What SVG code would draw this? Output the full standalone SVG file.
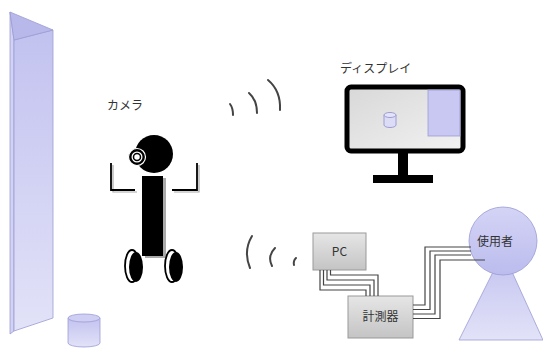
<svg xmlns="http://www.w3.org/2000/svg" width="543" height="348" viewBox="0 0 543 348">
  <defs>
    <linearGradient id="lav" x1="0" y1="0" x2="0" y2="1">
      <stop offset="0" stop-color="#c2c2f0"/>
      <stop offset="1" stop-color="#e2e2f8"/>
    </linearGradient>
    <linearGradient id="lavBall" x1="0" y1="0" x2="0" y2="1">
      <stop offset="0" stop-color="#d4d4f6"/>
      <stop offset="1" stop-color="#bcbcee"/>
    </linearGradient>
    <linearGradient id="box" x1="0" y1="0" x2="0" y2="1">
      <stop offset="0" stop-color="#e6e6e6"/>
      <stop offset="1" stop-color="#c4c4c4"/>
    </linearGradient>
    <linearGradient id="screen" x1="0" y1="0" x2="1" y2="1">
      <stop offset="0" stop-color="#d8d8d8"/>
      <stop offset="1" stop-color="#f2f2f2"/>
    </linearGradient>
  </defs>
  <style>
    .lbl { font-family: "Noto Sans CJK JP", "Noto Sans", sans-serif; font-size: 12px; fill: #333; }
    .box { fill: url(#box); stroke: #999; stroke-width: 1; }
    .lav { stroke: #9c9cd4; stroke-width: 0.8; }
    .blk { fill: #000; }
    .sh { fill: none; stroke: #aaa; stroke-width: 1.2; }
    .arm { fill: none; stroke: #000; stroke-width: 1.8; }
    .wave { fill: none; stroke: #444; stroke-width: 2; stroke-linecap: round; }
    .cable { fill: none; stroke: #444; stroke-width: 1.2; }
  </style>

  <!-- tall triangular prism -->
  <g id="prism">
    <polygon class="lav" points="10,12 14,40 14,331 10,334" fill="#d2d2f4"/>
    <polygon class="lav" points="14,40 53,30 53,318 14,331" fill="url(#lav)"/>
    <polygon class="lav" points="10,12 53,30 14,40" fill="#b8b8ea"/>
  </g>

  <!-- small cylinder on the floor -->
  <g id="cylinder">
    <path class="lav" d="M68,318 V343 A16,4 0 0 0 100,343 V318" fill="url(#lav)"/>
    <ellipse class="lav" cx="84" cy="318" rx="16" ry="4" fill="#cfcff4"/>
  </g>

  <!-- camera robot -->
  <g id="camera">
    <text class="lbl" x="107" y="110">カメラ</text>
    <!-- arms -->
    <path class="sh" d="M113,165 V192 H137 M199,165 V192 H174"/>
    <path class="arm" d="M111,163 V190 H135 M197,163 V190 H172"/>
    <!-- head -->
    <circle class="blk" cx="154" cy="154" r="19"/>
    <!-- body -->
    <rect x="145" y="178" width="21" height="80" fill="#aaa"/>
    <rect class="blk" x="142" y="176" width="21" height="80"/>
    <!-- lens -->
    <circle cx="137" cy="157" r="8.5" fill="#000" stroke="#fff" stroke-width="1.2"/>
    <circle cx="137" cy="157" r="5.5" fill="#fff"/>
    <circle cx="137" cy="157" r="3.5" fill="none" stroke="#000" stroke-width="1.5"/>
    <!-- wheels -->
    <ellipse cx="132" cy="266" rx="7" ry="16" fill="none" stroke="#000" stroke-width="1.8"/>
    <ellipse class="blk" cx="136" cy="267" rx="7" ry="15"/>
    <ellipse cx="172" cy="266" rx="7" ry="16" fill="none" stroke="#000" stroke-width="1.8"/>
    <ellipse class="blk" cx="176" cy="267" rx="7" ry="15"/>
  </g>

  <!-- radio waves from the camera -->
  <g id="waves-top">
    <path class="wave" d="M230,104 Q233,108 233,115"/>
    <path class="wave" d="M249,93 Q257,100 257,113"/>
    <path class="wave" d="M268,80 Q281,91 280,110"/>
  </g>
  <g id="waves-bottom">
    <path class="wave" d="M252,236 Q243,251 250,268"/>
    <path class="wave" d="M275,248 Q267,256 272,266"/>
    <path class="wave" d="M296,258 Q293,261 294,265"/>
  </g>

  <!-- display -->
  <g id="display">
    <text class="lbl" x="340" y="73" font-size="13">ディスプレイ</text>
    <rect x="347" y="87" width="116" height="64" rx="4" fill="url(#screen)" stroke="#000" stroke-width="5"/>
    <rect x="428" y="90" width="32" height="46" fill="#c8c8f2" stroke="#9c9cd4" stroke-width="0.8"/>
    <path d="M384,115 V125 A6,2.5 0 0 0 396,125 V115" fill="#dcdcf6" stroke="#9c9cd4" stroke-width="1"/>
    <ellipse cx="390" cy="115" rx="6" ry="2.5" fill="#e4e4f8" stroke="#9c9cd4" stroke-width="1"/>
    <rect class="blk" x="398" y="152" width="10" height="24"/>
    <rect class="blk" x="373" y="175" width="60" height="8"/>
  </g>

  <!-- PC -->
  <g id="pc">
    <rect class="box" x="313" y="233" width="53" height="37"/>
    <text class="lbl" x="339.5" y="256" text-anchor="middle" font-size="11">PC</text>
  </g>

  <!-- measuring instrument -->
  <g id="meter">
    <rect class="box" x="348" y="296" width="65" height="42"/>
    <text class="lbl" x="380.5" y="321" text-anchor="middle">計測器</text>
  </g>

  <!-- user -->
  <g id="user">
    <polygon points="503,252 543,340 459,340" fill="url(#lav)" stroke="#9c9cd4" stroke-width="0.8"/>
    <circle cx="503" cy="241" r="34" fill="url(#lavBall)" stroke="#9c9cd4" stroke-width="0.8"/>
    <text class="lbl" x="495" y="246" text-anchor="middle">使用者</text>
  </g>

  <!-- cable bundles -->
  <g id="connectors">
    <path class="cable" d="M320,270 V290 H366 V296"/>
    <path class="cable" d="M323.5,270 V285 H370 V296"/>
    <path class="cable" d="M327,270 V280 H374 V296"/>
    <path class="cable" d="M330.5,270 V275 H378 V296"/>

    <path class="cable" d="M413,305 H425 V247 H471"/>
    <path class="cable" d="M413,309.5 H430 V251 H471"/>
    <path class="cable" d="M413,314 H435 V255 H471"/>
    <path class="cable" d="M413,318.5 H440 V260 H485"/>
  </g>
</svg>
